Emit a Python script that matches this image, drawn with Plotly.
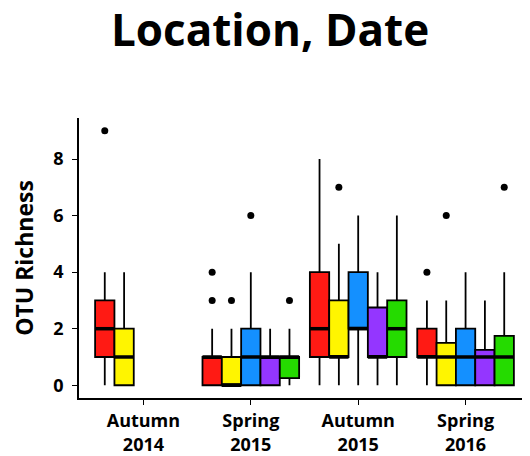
import plotly.graph_objects as go

dates = ["Autumn<br>2014", "Spring<br>2015", "Autumn<br>2015", "Spring<br>2016"]
colors = ["#FF1A14", "#FFF500", "#1490FF", "#9436FF", "#25DB00"]

# box stats per location, one value per date (None = not sampled)
q1 = [
    [1, 0, 1, 1],
    [0, 0, 1, 0],
    [None, 0, 2, 0],
    [None, 0, 1, 0],
    [None, 0.25, 1, 0],
]
median = [
    [2, 1, 2, 1],
    [1, 0, 1, 1],
    [None, 1, 2, 1],
    [None, 1, 1, 1],
    [None, 1, 2, 1],
]
q3 = [
    [3, 1, 4, 2],
    [2, 1, 3, 1.5],
    [None, 2, 4, 2],
    [None, 1, 2.75, 1.25],
    [None, 1, 3, 1.75],
]
lower = [
    [0, 0, 0, 0],
    [0, 0, 0, 0],
    [None, 0, 0, 0],
    [None, 0, 0, 0],
    [None, 0, 0, 0],
]
upper = [
    [4, 2, 8, 3],
    [4, 2, 5, 3],
    [None, 4, 6, 4],
    [None, 2, 4, 3],
    [None, 2, 6, 4],
]
outliers = [
    [[9], [3, 4], [], [4]],
    [[], [3], [7], [6]],
    [[], [6], [], []],
    [[], [], [], []],
    [[], [3], [], [7]],
]

dodge = 0.18
fig = go.Figure()
for i, col in enumerate(colors):
    off = (i - 2) * dodge
    idx = [d for d in range(len(dates)) if q1[i][d] is not None]
    xs = [d + 1 + off for d in idx]
    fig.add_trace(go.Box(
        x=xs, orientation="v",
        q1=[q1[i][d] for d in idx], median=[median[i][d] for d in idx],
        q3=[q3[i][d] for d in idx], lowerfence=[lower[i][d] for d in idx],
        upperfence=[upper[i][d] for d in idx],
        width=dodge, whiskerwidth=0, boxpoints=False,
        fillcolor=col, line=dict(color="black", width=1.8),
        showlegend=False, hoverinfo="skip",
    ))
    # thicker median line like ggplot
    mx, my = [], []
    for d, x in zip(idx, xs):
        mx += [x - dodge / 2, x + dodge / 2, None]
        my += [median[i][d], median[i][d], None]
    fig.add_trace(go.Scatter(x=mx, y=my, mode="lines", line=dict(color="black", width=3.5),
                             showlegend=False, hoverinfo="skip"))
    ox, oy = [], []
    for d in range(len(dates)):
        for v in outliers[i][d]:
            ox.append(d + 1 + off)
            oy.append(v)
    fig.add_trace(go.Scatter(x=ox, y=oy, mode="markers", marker=dict(color="black", size=7),
                             showlegend=False, hoverinfo="skip"))

# page body has an 8px margin, so the figure is a bit smaller than the window
fig.update_layout(
    width=522, height=448,
    margin=dict(l=71, r=0, t=110, b=58),
    plot_bgcolor="white", paper_bgcolor="white",
    font=dict(family="Open Sans", color="black"),
    boxmode="overlay",
    title=dict(text="<b>Location, Date</b>", x=0.502, xanchor="center", y=0.985, yanchor="top",
               font=dict(size=44, family="Open Sans", color="black")),
)
fig.update_xaxes(
    range=[0.4, 4.6], tickvals=[1, 2, 3, 4], ticktext=["<b>%s</b>" % d for d in dates],
    showline=True, linecolor="black", linewidth=1.5, ticks="outside", ticklen=5,
    tickcolor="black", showgrid=False, zeroline=False, tickfont=dict(size=18),
    ticklabelstandoff=1, automargin=False,
)
fig.update_yaxes(
    range=[-0.45, 9.45], tickvals=[0, 2, 4, 6, 8], ticktext=["<b>%d</b>" % v for v in [0, 2, 4, 6, 8]],
    showline=True, linecolor="black", linewidth=1.5, ticks="outside", ticklen=5,
    tickcolor="black", showgrid=False, zeroline=False, tickfont=dict(size=18),
    ticklabelstandoff=5,
    title=dict(text="<b>OTU Richness</b>", font=dict(size=23), standoff=20),
    automargin=False,
)

fig.write_html("out.html")
